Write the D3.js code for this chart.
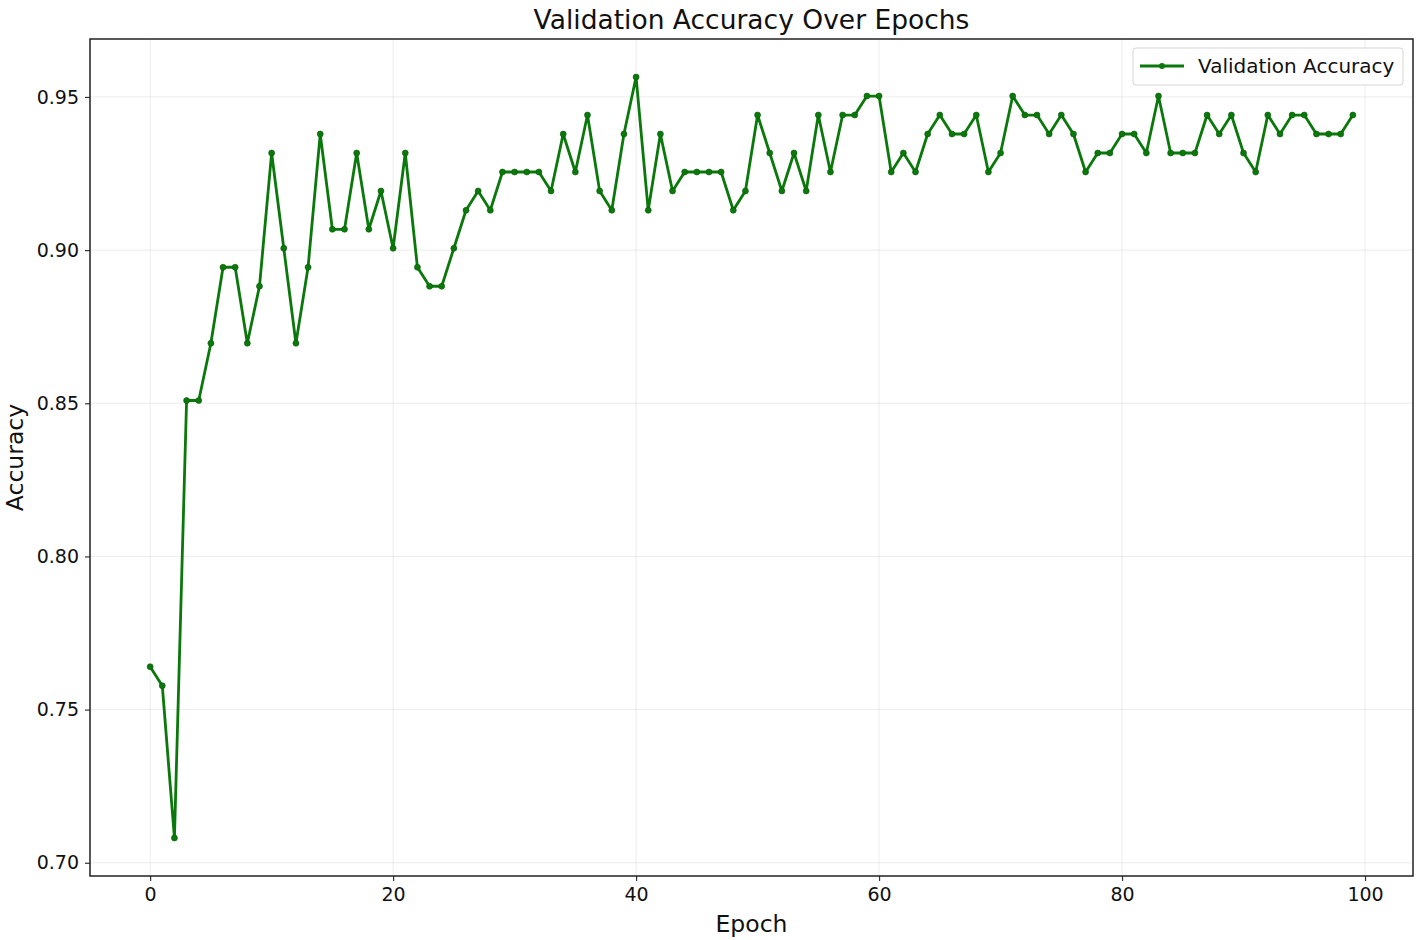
<!DOCTYPE html>
<html>
<head>
<meta charset="utf-8">
<script src="https://cdn.jsdelivr.net/npm/d3@7"></script>
<style>
  html, body { margin: 0; padding: 0; background: #fff; }
  svg { display: block; font-family: "DejaVu Sans", sans-serif; }
</style>
</head>
<body>
<svg id="chart" width="1417" height="940"></svg>
<script>
// ---- Data ----
const epochs = d3.range(0, 100);
const valAccuracy = [
  0.7640, 0.7578, 0.7081, 0.8509, 0.8509, 0.8696, 0.8944, 0.8944, 0.8696, 0.8882,
  0.9317, 0.9006, 0.8696, 0.8944, 0.9379, 0.9068, 0.9068, 0.9317, 0.9068, 0.9193,
  0.9006, 0.9317, 0.8944, 0.8882, 0.8882, 0.9006, 0.9130, 0.9193, 0.9130, 0.9255,
  0.9255, 0.9255, 0.9255, 0.9193, 0.9379, 0.9255, 0.9441, 0.9193, 0.9130, 0.9379,
  0.9565, 0.9130, 0.9379, 0.9193, 0.9255, 0.9255, 0.9255, 0.9255, 0.9130, 0.9193,
  0.9441, 0.9317, 0.9193, 0.9317, 0.9193, 0.9441, 0.9255, 0.9441, 0.9441, 0.9503,
  0.9503, 0.9255, 0.9317, 0.9255, 0.9379, 0.9441, 0.9379, 0.9379, 0.9441, 0.9255,
  0.9317, 0.9503, 0.9441, 0.9441, 0.9379, 0.9441, 0.9379, 0.9255, 0.9317, 0.9317,
  0.9379, 0.9379, 0.9317, 0.9503, 0.9317, 0.9317, 0.9317, 0.9441, 0.9379, 0.9441,
  0.9317, 0.9255, 0.9441, 0.9379, 0.9441, 0.9441, 0.9379, 0.9379, 0.9379, 0.9441
];
const xTicks = [0, 20, 40, 60, 80, 100];
const yTicks = [0.70, 0.75, 0.80, 0.85, 0.90, 0.95];
const titleText = "Validation Accuracy Over Epochs";
const xLabel = "Epoch";
const yLabel = "Accuracy";
const seriesName = "Validation Accuracy";

// ---- Layout ----
const svg = d3.select("#chart");
const margin = { left: 90, top: 39, right: 1413, bottom: 876 };
const color = "#0a780a";

const xMin = d3.min(epochs), xMax = d3.max(epochs);
const xPad = (xMax - xMin) * 0.05;
const yMin = d3.min(valAccuracy), yMax = d3.max(valAccuracy);
const yPad = (yMax - yMin) * 0.05;

const x = d3.scaleLinear().domain([xMin - xPad, xMax + xPad]).range([margin.left, margin.right]);
const y = d3.scaleLinear().domain([yMin - yPad, yMax + yPad]).range([margin.bottom, margin.top]);

// grid
const grid = svg.append("g");
grid.selectAll("line.gx").data(xTicks).join("line")
  .attr("x1", d => x(d)).attr("x2", d => x(d))
  .attr("y1", margin.top).attr("y2", margin.bottom)
  .attr("stroke", "#b0b0b0").attr("stroke-opacity", 0.3).attr("stroke-width", 0.8);
grid.selectAll("line.gy").data(yTicks).join("line")
  .attr("y1", d => y(d)).attr("y2", d => y(d))
  .attr("x1", margin.left).attr("x2", margin.right)
  .attr("stroke", "#b0b0b0").attr("stroke-opacity", 0.3).attr("stroke-width", 0.8);

// axes
const xAxis = d3.axisBottom(x).tickValues(xTicks).tickFormat(d3.format("d")).tickSize(5).tickPadding(7);
const yAxis = d3.axisLeft(y).tickValues(yTicks).tickFormat(d3.format(".2f")).tickSize(5).tickPadding(6);

const gx = svg.append("g").attr("transform", `translate(0,${margin.bottom})`).call(xAxis);
const gy = svg.append("g").attr("transform", `translate(${margin.left},0)`).call(yAxis);
[gx, gy].forEach(g => {
  g.select(".domain").remove();
  g.selectAll(".tick line").attr("stroke", "#333").attr("stroke-width", 1.2);
  g.selectAll(".tick text").attr("fill", "#111").style("font-size", "19px")
    .style("font-family", "'DejaVu Sans', sans-serif");
});

// frame
svg.append("rect")
  .attr("x", margin.left).attr("y", margin.top)
  .attr("width", margin.right - margin.left).attr("height", margin.bottom - margin.top)
  .attr("fill", "none").attr("stroke", "#222").attr("stroke-width", 1.5);

// line
const line = d3.line().x((d, i) => x(epochs[i])).y(d => y(d));
svg.append("path").datum(valAccuracy)
  .attr("d", line).attr("fill", "none").attr("stroke", color)
  .attr("stroke-width", 2.8).attr("stroke-linejoin", "round");
svg.append("g").selectAll("circle").data(valAccuracy).join("circle")
  .attr("cx", (d, i) => x(epochs[i])).attr("cy", d => y(d))
  .attr("r", 3).attr("fill", color).attr("stroke", "#0a5a0a").attr("stroke-width", 0.6);

// title & labels
svg.append("text").attr("x", (margin.left + margin.right) / 2).attr("y", 29)
  .attr("text-anchor", "middle").style("font-size", "26.5px").attr("fill", "#111").text(titleText);
svg.append("text").attr("x", (margin.left + margin.right) / 2).attr("y", 932)
  .attr("text-anchor", "middle").style("font-size", "23.5px").attr("fill", "#111").text(xLabel);
svg.append("text")
  .attr("transform", `translate(23,${(margin.top + margin.bottom) / 2}) rotate(-90)`)
  .attr("text-anchor", "middle").style("font-size", "23.5px").attr("fill", "#111").text(yLabel);

// legend
const lg = svg.append("g");
lg.append("rect").attr("x", 1133).attr("y", 48).attr("width", 270).attr("height", 37)
  .attr("rx", 3).attr("fill", "#fff").attr("fill-opacity", 0.8)
  .attr("stroke", "#d5d5d5").attr("stroke-width", 1);
lg.append("line").attr("x1", 1140).attr("x2", 1184).attr("y1", 66).attr("y2", 66)
  .attr("stroke", color).attr("stroke-width", 2.8);
lg.append("circle").attr("cx", 1162).attr("cy", 66).attr("r", 3).attr("fill", color);
lg.append("text").attr("x", 1198).attr("y", 73).style("font-size", "20px").attr("fill", "#111").text(seriesName);
</script>
</body>
</html>
